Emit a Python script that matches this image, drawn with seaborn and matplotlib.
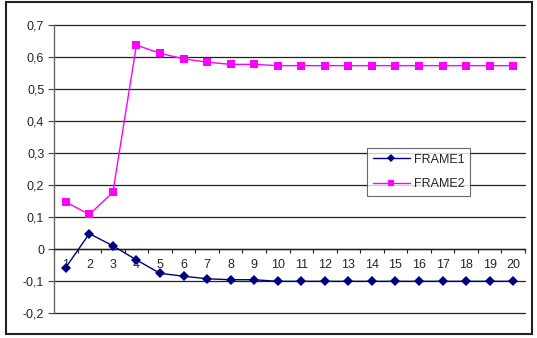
import matplotlib
matplotlib.use("Agg")
import matplotlib.pyplot as plt
import seaborn as sns
import pandas as pd
from matplotlib.patches import Rectangle
from matplotlib.ticker import FixedLocator, FuncFormatter

frames = list(range(1, 21))
frame1 = [-0.058, 0.048, 0.010, -0.034, -0.076, -0.085, -0.093, -0.096, -0.096,
          -0.101, -0.101, -0.101, -0.101, -0.101, -0.101, -0.101, -0.101, -0.101, -0.101, -0.101]
frame2 = [0.147, 0.108, 0.177, 0.637, 0.612, 0.594, 0.584, 0.577, 0.577,
          0.573, 0.573, 0.573, 0.573, 0.573, 0.573, 0.573, 0.573, 0.573, 0.573, 0.573]
series_names = ["FRAME1", "FRAME2"]
y_ticks = [-0.2, -0.1, 0, 0.1, 0.2, 0.3, 0.4, 0.5, 0.6, 0.7]

sns.set_style("white")
plt.rcParams['font.family'] = ['Liberation Sans', 'DejaVu Sans']

df = pd.DataFrame({
    "x": frames * 2,
    "y": frame1 + frame2,
    "series": [series_names[0]] * len(frames) + [series_names[1]] * len(frames),
})

fig = plt.figure(figsize=(5.37, 3.38), dpi=100)
ax = fig.add_axes([54 / 537, 1 - 313 / 338, (525 - 54) / 537, (313 - 25) / 338])

for yt in y_ticks:
    ax.axhline(yt, color='#222222', lw=0.9, zorder=0, clip_on=False)

sns.lineplot(data=df, x="x", y="y", hue="series", style="series",
             palette={"FRAME1": "#000080", "FRAME2": "#FF00FF"},
             markers={"FRAME1": "D", "FRAME2": "s"}, dashes=False,
             markersize=5.5, linewidth=1.0, markeredgewidth=0, ax=ax, zorder=3)

ax.set_xlim(0.5, 20.5)
ax.set_ylim(-0.2, 0.7)
ax.set_xlabel("")
ax.set_ylabel("")

for s in ['top', 'right']:
    ax.spines[s].set_visible(False)
ax.spines['left'].set_color('#666666')
ax.spines['left'].set_linewidth(1.0)
ax.spines['bottom'].set_position(('data', 0))
ax.spines['bottom'].set_color('#222222')
ax.spines['bottom'].set_linewidth(1.0)

ax.set_yticks(y_ticks)
ax.yaxis.set_major_formatter(FuncFormatter(
    lambda v, p: "0" if abs(v) < 1e-9 else f"{v:.1f}".replace(".", ",")))
ax.tick_params(axis='y', direction='out', length=4, width=0.8, color='#444444',
               labelsize=9, pad=3, left=True)

ax.set_xticks(frames)
ax.set_xticklabels([str(f) for f in frames])
ax.xaxis.set_minor_locator(FixedLocator([i + 0.5 for i in range(0, 21)]))
ax.tick_params(axis='x', which='major', length=0, labelsize=9, pad=7)
ax.tick_params(axis='x', which='minor', direction='out', length=3, width=0.8,
               color='#222222', bottom=True)

ax.legend(loc='upper left', bbox_to_anchor=(367 / 537, 1 - 148 / 338),
          bbox_transform=fig.transFigure, frameon=True, fancybox=False,
          edgecolor='#444444', fontsize=9, handlelength=3.0,
          borderpad=0.45, labelspacing=1.0, handletextpad=0.3, borderaxespad=0)
leg = ax.get_legend()
leg.get_frame().set_linewidth(0.8)
leg.set_zorder(5)
for h in leg.legend_handles:
    h.set_markersize(4.5)

fig.patches.append(Rectangle((6 / 537, 4 / 338), (532 - 6) / 537, (336 - 4) / 338,
                             transform=fig.transFigure, fill=False,
                             edgecolor='#222222', linewidth=1.5))

fig.savefig("out.png", dpi=100)
